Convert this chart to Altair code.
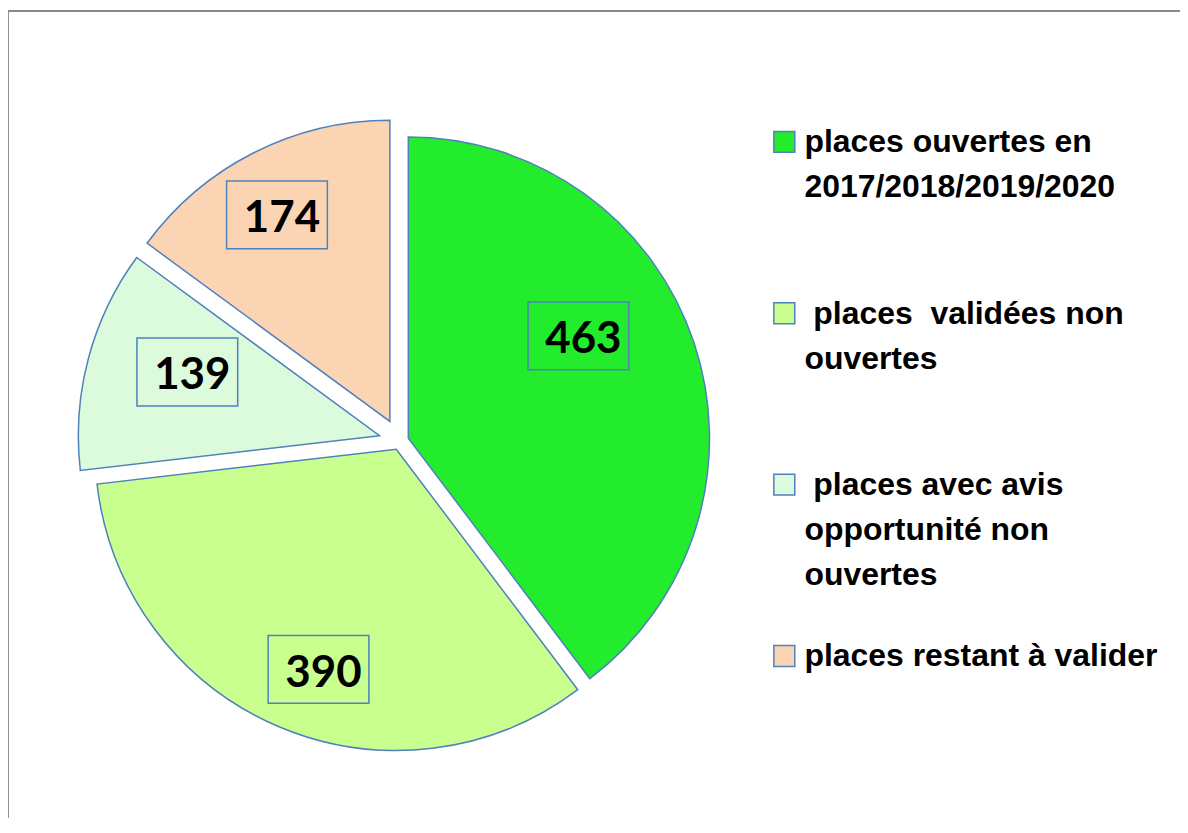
import altair as alt
import pandas as pd

# ---- data ----
CATEGORIES = [
    "places ouvertes en\n2017/2018/2019/2020",
    "\u200b\u00a0places\u00a0\u00a0validées non\nouvertes",
    "\u200b\u00a0places avec avis\nopportunité non\nouvertes",
    "places restant à valider",
]
VALUES = [463, 390, 139, 174]

# ---- styles ----
COLORS = ["#22EC2C", "#C9FF8E", "#DCFADC", "#FBD4B4"]
EXPLODE_PX = [9, 9, 21, 22]           # per-slice explosion (pixels)
LABEL_R = [199, 234, 203, 236]        # label box distance from slice vertex
LABEL_DANGLE = [-12.5, -3.7, 3.5, -1.8]  # label angle tweak (degrees)
EDGE = "#4F81BD"
LABEL_FONT = "Lato"
LEGEND_FONT = "Liberation Sans"

CX, CY, R = 392.8, 433.1, 302
BOX_W, BOX_H = 101, 68
LEG_SQ_X, LEG_Y0, LEG_STEP, LEG_TX = 778.3, 133.2, 171.8, 798.5
W, H = 1175, 810

df = pd.DataFrame({
    "idx": list(range(len(VALUES))),
    "cat": CATEGORIES,
    "value": VALUES,
    "explode": EXPLODE_PX,
    "lr": LABEL_R,
    "lda": LABEL_DANGLE,
})

color = alt.Color("cat:N", scale=alt.Scale(domain=CATEGORIES, range=COLORS), legend=None)

base = (
    alt.Chart(df)
    .transform_window(cum="sum(value)", sort=[alt.SortField("idx")], frame=[None, 0])
    .transform_joinaggregate(total="sum(value)")
    .transform_calculate(a1="datum.cum / datum.total * 2 * PI")
    .transform_calculate(a0="(datum.cum - datum.value) / datum.total * 2 * PI")
    .transform_calculate(mid="(datum.a0 + datum.a1) / 2")
    .transform_calculate(cx=f"{CX} + datum.explode * sin(datum.mid)")
    .transform_calculate(cy=f"{CY} - datum.explode * cos(datum.mid)")
    .transform_calculate(la="datum.mid + datum.lda * PI / 180")
    .transform_calculate(lx="datum.cx + datum.lr * sin(datum.la)")
    .transform_calculate(ly="datum.cy - datum.lr * cos(datum.la)")
    .transform_calculate(bx0=f"datum.lx - {BOX_W/2}", bx1=f"datum.lx + {BOX_W/2}")
    .transform_calculate(by0=f"datum.ly - {BOX_H/2}", by1=f"datum.ly + {BOX_H/2}")
    .transform_calculate(legy=f"{LEG_Y0} + datum.idx * {LEG_STEP}")
)

arcs = base.mark_arc(stroke=EDGE, strokeWidth=1.5, outerRadius=R).encode(
    x=alt.X("cx:Q", scale=None, axis=None),
    y=alt.Y("cy:Q", scale=None, axis=None),
    theta=alt.Theta("a0:Q", scale=None, stack=False),
    theta2=alt.Theta2("a1:Q"),
    color=color,
)

boxes = base.mark_rect(fill="transparent", stroke=EDGE, strokeWidth=1.5).encode(
    x=alt.X("bx0:Q", scale=None, axis=None),
    x2="bx1:Q",
    y=alt.Y("by0:Q", scale=None, axis=None),
    y2="by1:Q",
)

labels = base.mark_text(
    font=LABEL_FONT, fontWeight="bold", fontSize=44, color="black",
    align="center", baseline="alphabetic", dx=5, dy=17.5,
).encode(
    x=alt.X("lx:Q", scale=None, axis=None),
    y=alt.Y("ly:Q", scale=None, axis=None),
    text=alt.Text("value:Q"),
)

leg_sq = base.mark_square(size=441, stroke=EDGE, strokeWidth=1.5, opacity=1).encode(
    x=alt.value(LEG_SQ_X),
    y=alt.Y("legy:Q", scale=None, axis=None),
    color=color,
)

leg_txt = base.mark_text(
    font=LEGEND_FONT, fontWeight="bold", fontSize=32, color="black",
    align="left", baseline="alphabetic", dy=10.5, lineBreak="\n", lineHeight=45,
).encode(
    x=alt.value(LEG_TX),
    y=alt.Y("legy:Q", scale=None, axis=None),
    text="cat:N",
)

border_top = alt.Chart(df).mark_rule(color="#8A8A8A", strokeWidth=2).encode(
    x=alt.value(-1), x2=alt.value(W + 20), y=alt.value(2)
)
border_left = alt.Chart(df).mark_rule(color="#8A8A8A", strokeWidth=2).encode(
    x=alt.value(-0.5), y=alt.value(1), y2=alt.value(H + 20)
)

chart = (
    alt.layer(border_top, border_left, arcs, boxes, labels, leg_sq, leg_txt)
    .properties(width=W, height=H, autosize="none", padding=0)
    .configure_view(stroke=None)
)

chart.save("out.html", embed_options={"renderer": "svg", "actions": False})
